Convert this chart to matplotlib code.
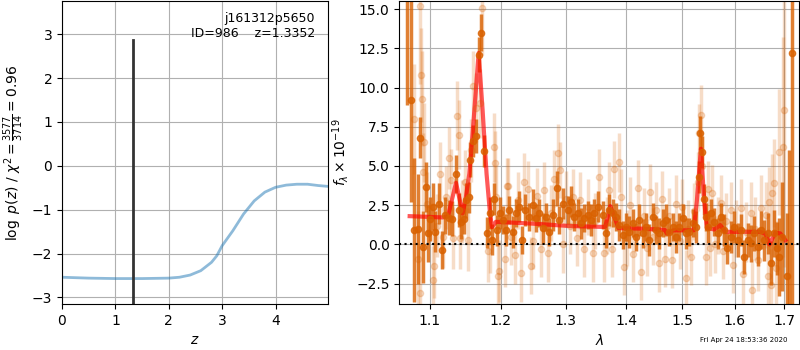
import matplotlib
matplotlib.use('Agg')
import matplotlib.pyplot as plt
from matplotlib.ticker import FixedLocator, FormatStrFormatter, NullLocator

# p(z) curve
z_grid = [0.0, 0.5, 1.0, 1.5, 2.0, 2.2, 2.4, 2.6, 2.8, 2.9, 3.0, 3.2, 3.4, 3.6,
          3.8, 4.0, 4.2, 4.4, 4.6, 4.8, 4.99]
log_pz = [-2.54, -2.56, -2.57, -2.57, -2.56, -2.54, -2.49, -2.39, -2.20, -2.05,
          -1.82, -1.48, -1.10, -0.80, -0.60, -0.49, -0.44, -0.42, -0.42, -0.45, -0.47]
z_best = 1.3352
z_line_top = 2.86

# combined spectrum (dark)
wave_dark = [1.0699, 1.0755, 1.0796, 1.0840, 1.0866, 1.0906, 1.0951, 1.0972, 1.1010,
             1.1041, 1.1077, 1.1122, 1.1168, 1.1214, 1.1260, 1.1306, 1.1362, 1.1399,
             1.1436, 1.1468, 1.1506, 1.1539, 1.1563, 1.1596, 1.1639, 1.1682, 1.1720,
             1.1763, 1.1802, 1.1840, 1.1875, 1.1909, 1.1948, 1.1996,
             1.2030, 1.2081, 1.2130, 1.2180, 1.2231, 1.2281, 1.2321, 1.2370, 1.2431,
             1.2481, 1.2534, 1.2584, 1.2636, 1.2689, 1.2740, 1.2792, 1.2855, 1.2897,
             1.2950, 1.3029, 1.3083, 1.3137, 1.3190, 1.3245, 1.3299, 1.3353, 1.3409,
             1.3463, 1.3518,
             1.3600, 1.3657, 1.3713, 1.3769, 1.3827, 1.3882, 1.3939, 1.3997, 1.4054,
             1.4111, 1.4170, 1.4228, 1.4286, 1.4346, 1.4402, 1.4461, 1.4521, 1.4580,
             1.4640, 1.4700, 1.4761, 1.4820, 1.4882, 1.4942, 1.5003, 1.5066, 1.5127,
             1.5189, 1.5252, 1.5301, 1.5333, 1.5370, 1.5407, 1.5439, 1.5488, 1.5533,
             1.5597, 1.5661, 1.5726, 1.5791, 1.5854, 1.5921, 1.5986, 1.6051, 1.6117,
             1.6183, 1.6249, 1.6316, 1.6382, 1.6449, 1.6518, 1.6585, 1.6652, 1.6720,
             1.6790, 1.6838, 1.6894, 1.6957, 1.7047, 1.7103, 1.7160]
flux_dark = [18.0, 9.2, 0.9, 1.0, 6.8, -0.15, 3.65, 0.7, 1.6,
             2.4, 0.8, 2.6, -0.35, 1.85, 1.7, 1.65, 4.5, 2.2,
             1.45, 1.65, 2.8, 3.0, 5.4, 6.6, 6.9, 12.1, 13.5,
             5.95, 0.75, 2.0, 0.3, 2.9, 0.9, 2.0,
             1.55, 0.91, 2.19, 0.8, 1.98, 2.4, 0.27, 2.19, 1.76,
             2.5, 1.66, 1.98, 1.02, 1.76, 0.8, 1.87, 3.57, 1.55,
             2.6, 2.19, 2.72, 1.76, 1.98, 1.34, 1.66, 1.87, 1.55,
             1.98, 2.4,
             1.87, 0.7, 2.19, 1.98, 1.76, 1.23, 0.59, 1.12, 0.8,
             1.34, 0.48, 1.55, 0.7, 1.12, 0.27, 1.76, 0.91, 0.7,
             1.34, 1.55, 0.8, 1.12, 0.48, 1.12, 1.66, 0.7, 0.8,
             1.34, 1.12, 4.3, 7.1, 5.9, 2.87, 1.76, 1.12, 1.98,
             1.44, 0.7, 1.76, 0.91, -0.26, 0.48, 1.12, 0.27, 0.91,
             -0.79, 0.27, 0.06, 0.7, -0.15, 0.91, 0.27, 0.7, -1.21,
             0.7, -0.26, -0.79, 0.5, -2.0, -5.0, 12.2]
err_dark = [9.1, 6.5, 4.6, 3.5, 1.3, 2.3, 1.6, 1.8, 1.4,
            1.5, 1.3, 1.3, 1.2, 1.2, 1.1, 1.1, 1.2, 1.1,
            1.1, 1.0, 1.1, 1.0, 1.1, 1.0, 1.1, 1.1, 1.2,
            1.0, 1.0, 1.0, 1.0, 1.0, 1.0, 1.0,
            0.9, 1.0, 0.9, 1.0, 0.9, 1.0, 0.9, 1.0, 0.9,
            1.0, 0.9, 0.9, 1.0, 0.9, 0.9, 1.0, 1.1, 0.9,
            1.0, 0.9, 1.0, 0.9, 0.9, 1.0, 0.9, 0.9, 1.0,
            0.9, 1.0,
            0.9, 0.9, 1.0, 0.9, 0.9, 1.0, 0.9, 0.9, 1.0,
            0.9, 0.9, 1.0, 0.9, 0.9, 1.0, 0.9, 0.9, 1.0,
            0.9, 1.0, 0.9, 0.9, 1.0, 0.9, 0.9, 1.0, 0.9,
            0.9, 1.0, 1.0, 1.1, 1.0, 1.0, 0.9, 1.0, 0.9,
            0.9, 1.0, 0.9, 1.0, 1.0, 1.0, 1.0, 1.1, 1.0,
            1.1, 1.1, 1.2, 1.1, 1.2, 1.2, 1.3, 1.3, 1.4,
            1.5, 1.7, 2.5, 3.5, 4.0, 11.0, 20.0]

# individual beam spectra (light)
wave_light = [1.0786, 1.0840, 1.0866, 1.0871, 1.0884, 1.0897, 1.0905, 1.0929, 1.0968,
              1.1041, 1.1063, 1.1096, 1.1137, 1.1186, 1.1228, 1.1260, 1.1292, 1.1325,
              1.1376, 1.1406, 1.1420, 1.1445, 1.1484, 1.1525, 1.1570, 1.1606, 1.1649,
              1.1699, 1.1730, 1.1811, 1.1850, 1.1897, 1.1920, 1.1932, 1.1960, 1.1981,
              1.2070, 1.2090, 1.2115, 1.2160, 1.2221, 1.2266, 1.2306, 1.2356, 1.2406,
              1.2450, 1.2492, 1.2554, 1.2615, 1.2650, 1.2714, 1.2771, 1.2818, 1.2870,
              1.2908, 1.2961, 1.3008, 1.3072, 1.3120, 1.3185, 1.3234, 1.3299, 1.3364,
              1.3435, 1.3479, 1.3545,
              1.3628, 1.3670, 1.3713, 1.3764, 1.3797, 1.3870, 1.3916, 1.3967, 1.4019,
              1.4071, 1.4123, 1.4199, 1.4258, 1.4316, 1.4367, 1.4420, 1.4473, 1.4527,
              1.4580, 1.4634, 1.4688, 1.4761, 1.4815, 1.4888, 1.4960, 1.4997, 1.5066,
              1.5108, 1.5164, 1.5219, 1.5285, 1.5301, 1.5345, 1.5370,
              1.5439, 1.5483, 1.5520, 1.5564, 1.5616, 1.5674, 1.5726, 1.5771, 1.5830,
              1.5921, 1.5967, 1.6025, 1.6117, 1.6163, 1.6223, 1.6316, 1.6332, 1.6402,
              1.6463, 1.6524, 1.6620, 1.6656, 1.6686, 1.6720, 1.6753, 1.6790, 1.6830,
              1.6894, 1.6962, 1.6998]
flux_light = [8.0, -0.9, -3.1, 15.2, 10.8, 9.3, 4.6, 6.5, 2.6,
              -2.3, -1.4, 1.2, 4.5, 0.5, 3.0, 5.5, 4.1, 0.4,
              8.2, 7.0, 0.4, 2.1, 4.0, 0.3, 6.0, 10.1, 8.7,
              9.0, 15.1, -0.4, 0.2, 6.2, 5.2, 3.0, -2.0, -1.7,
              -0.9, 3.7, 3.7, 0.5, -0.7, 2.8, -1.85, 4.0, 3.5,
              -1.36, 0.2, 3.1, -0.3, 3.46, -0.57, 2.0, 4.2, 5.8,
              4.74, 0.0, 2.9, 1.2, 3.0, 0.4, 2.8, -0.3, 2.4,
              -0.57, 1.5, 4.3,
              -0.57, 1.2, 3.46, -0.3, 4.78, 5.23, 3.0, -1.43, 0.4,
              2.5, -0.6, 3.57, -1.75, 1.8, -0.2, 3.35, 0.5, 2.2,
              -1.21, 2.9, -0.9, 1.8, -1.0, 2.6, 0.2, 2.4, -2.17,
              1.0, -0.8, 2.1, 4.0, 7.07, 8.24, 5.0,
              -0.79, 3.5, -0.2, 3.25, 0.0, 1.2, 2.61, -0.4, 1.5,
              2.19, -1.3, 1.0, 2.29, -1.9, 0.8, 1.98, -2.91, 1.0,
              -1.0, 2.3, 1.87, -2.0, 2.72, -2.6, 3.25, 3.93, -1.5,
              5.9, 6.22, 8.56]
err_light = [3.5, 3.0, 3.0, 5.0, 3.0, 3.0, 2.5, 2.5, 2.0,
             2.2, 2.0, 2.0, 2.0, 2.0, 2.0, 2.0, 2.0, 2.0,
             2.2, 2.2, 2.0, 2.0, 2.0, 2.0, 2.0, 2.2, 2.2,
             2.2, 3.0, 2.0, 2.0, 2.2, 2.0, 2.0, 2.0, 2.0,
             1.8, 1.8, 1.8, 1.8, 1.8, 1.8, 1.8, 1.8, 1.8,
             1.8, 1.8, 1.8, 1.8, 1.8, 1.8, 1.8, 1.8, 1.9,
             1.8, 1.8, 1.8, 1.8, 1.8, 1.8, 1.8, 1.8, 1.8,
             1.8, 1.8, 1.8,
             1.8, 1.8, 1.8, 1.8, 1.8, 1.9, 1.8, 1.8, 1.8,
             1.8, 1.8, 1.8, 1.8, 1.8, 1.8, 1.8, 1.8, 1.8,
             1.8, 1.8, 1.8, 1.8, 1.8, 1.8, 1.8, 1.8, 1.8,
             1.8, 1.8, 1.8, 1.9, 1.9, 1.9, 1.9,
             1.8, 1.8, 1.8, 1.8, 1.8, 1.8, 1.8, 1.8, 1.8,
             1.8, 1.8, 1.8, 1.9, 1.9, 1.9, 2.0, 2.0, 2.0,
             2.0, 2.1, 2.1, 2.2, 2.2, 2.3, 2.5, 2.8, 3.0,
             4.0, 7.0, 10.0]

# best-fit model
wave_model = [1.0734, 1.1176, 1.1250, 1.1362, 1.1455, 1.1500, 1.1549, 1.1596, 1.1682,
              1.1739, 1.1796, 1.1846, 1.1875, 1.1932, 1.2500, 1.3072, 1.3562, 1.3645,
              1.3730, 1.3870, 1.4300, 1.4680, 1.4718, 1.4839, 1.5210, 1.5270, 1.5345,
              1.5407, 1.5457, 1.5600, 1.5713, 1.5810, 1.6504, 1.6605, 1.6692, 1.6810,
              1.6915, 1.7020]
flux_model = [1.8, 1.72, 1.78, 3.93, 1.98, 3.0, 4.5, 7.07, 12.2,
              8.56, 4.5, 1.98, 1.1, 1.44, 1.32, 1.17, 1.12, 1.12,
              2.44, 1.04, 1.0, 0.92, 0.7, 0.9, 0.9, 2.8, 6.1,
              2.8, 1.04, 0.95, 1.23, 0.8, 0.8, 0.7, 0.0, 0.74,
              0.7, 0.27]

obj_name = 'j161312p5650'
obj_id = 986
stamp = 'Fri Apr 24 18:53:36 2020'
wave_ticks = [1.1, 1.2, 1.3, 1.4, 1.5, 1.6, 1.7]

orange = (0.85, 0.38, 0.0)

fig = plt.figure(figsize=(8, 3.5), dpi=100)
ax1 = fig.add_axes([0.0775, 0.1314, 0.333, 0.865])
ax2 = fig.add_axes([0.4991, 0.1314, 0.5, 0.865])

# left: p(z)
ax1.plot(z_grid, log_pz, color='tab:blue', alpha=0.5, lw=2)
ax1.plot([z_best, z_best], [-4, z_line_top], color='0.2', lw=2)
ax1.set_xlim(0, 4.99)
ax1.set_ylim(-3.15, 3.75)
ax1.set_xticks([0, 1, 2, 3, 4])
ax1.set_yticks([-3, -2, -1, 0, 1, 2, 3])
ax1.grid()
ax1.set_xlabel('$z$')
ax1.set_ylabel(r'$\log\ p(z)$ / $\chi^2=\frac{3577}{3714}=0.96$')
ax1.text(0.95, 0.965, '{0}\nID={1}    z={2:.4f}'.format(obj_name, obj_id, z_best),
         transform=ax1.transAxes, ha='right', va='top', fontsize=9)

# right: spectrum
ax2.errorbar(wave_light, flux_light, yerr=err_light, color=orange, alpha=0.22,
             marker='o', ms=4.5, linestyle='none', elinewidth=2.5)
ax2.errorbar(wave_dark, flux_dark, yerr=err_dark, color=orange, alpha=0.8,
             marker='o', ms=4.5, linestyle='none', elinewidth=2.5)
ax2.plot(wave_model, flux_model, color='r', alpha=0.65, lw=3)
ax2.axhline(0, color='k', linestyle=':', lw=1.5)

ax2.set_xscale('log')
ax2.set_xlim(1.0598, 1.7314)
ax2.set_ylim(-3.8, 15.5)
ax2.xaxis.set_major_locator(FixedLocator(wave_ticks))
ax2.xaxis.set_major_formatter(FormatStrFormatter('%.1f'))
ax2.xaxis.set_minor_locator(NullLocator())
ax2.set_yticks([-2.5, 0, 2.5, 5, 7.5, 10, 12.5, 15])
ax2.grid()
ax2.set_xlabel(r'$\lambda$')
ax2.set_ylabel(r'$f_\lambda\times10^{-19}$')

fig.text(0.985, 0.028, stamp, ha='right', va='center', fontsize=5)

fig.savefig('out.png', dpi=100)
